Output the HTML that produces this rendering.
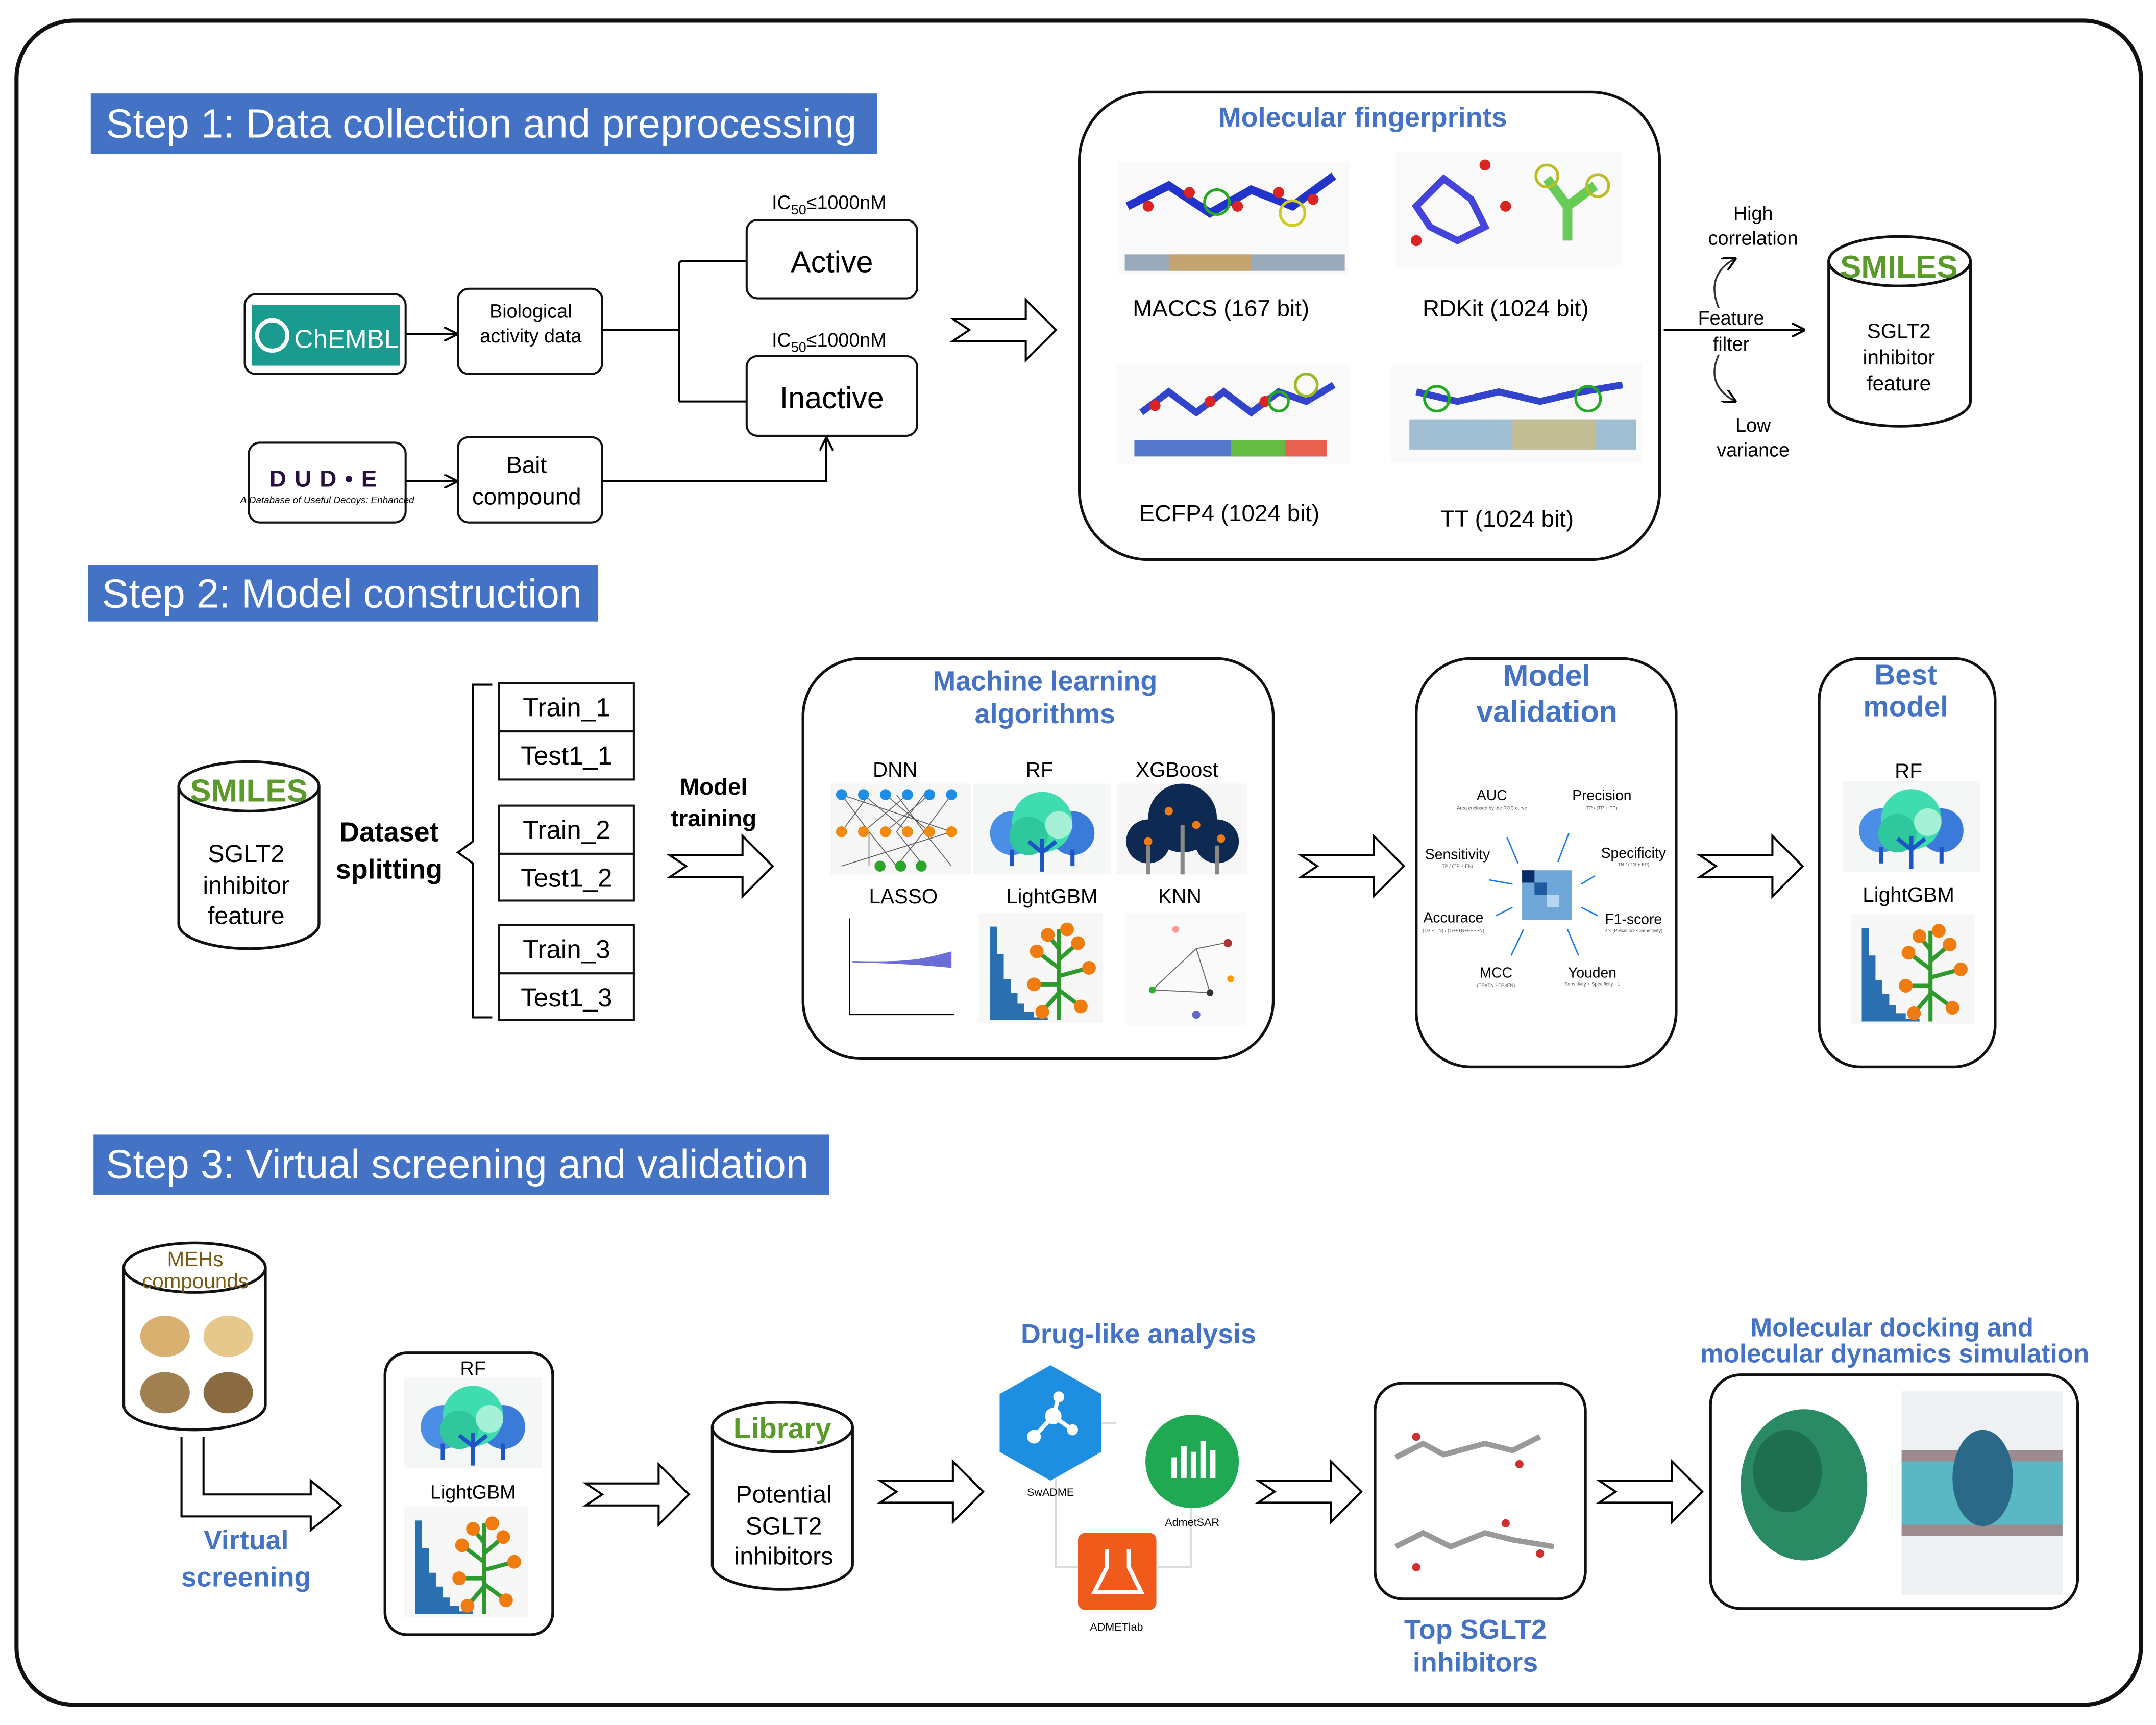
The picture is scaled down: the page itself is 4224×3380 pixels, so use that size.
<!DOCTYPE html>
<html><head><meta charset="utf-8"><style>
html,body{margin:0;padding:0;background:#fff}
svg{display:block}
text{font-family:"Liberation Sans",Arial,sans-serif}
</style></head><body>
<svg width="4224" height="3380" viewBox="0 0 1568 1254.7" xmlns="http://www.w3.org/2000/svg">
<defs>
<marker id="ah" markerWidth="10" markerHeight="10" refX="9" refY="5" orient="auto" markerUnits="userSpaceOnUse"><path d="M0,0 L10,5 L0,10" fill="none" stroke="#000" stroke-width="1.5"/></marker>
<g id="tree">
<rect x="0" y="0" width="100" height="66" fill="#f4f7f5"/>
<circle cx="28" cy="36" r="16" fill="#4a8ee6"/><circle cx="72" cy="36" r="16" fill="#3a7ad8"/>
<circle cx="50" cy="28" r="22" fill="#3fdcb0"/><circle cx="40" cy="38" r="14" fill="#2fc79c"/><circle cx="62" cy="30" r="10" fill="#a6f0d8"/>
<path d="M50 40 V64 M50 50 L40 42 M50 50 L60 42 M28 48 V60 M72 48 V60" stroke="#1d55c4" stroke-width="3" fill="none"/>
</g>
<g id="lgbm">
<rect x="0" y="0" width="90" height="80" fill="#f7f7f7"/>
<path d="M8 78 V10 H13 V30 H18 V48 H23 V58 H28 V66 H33 V72 H40 V76 H50 V78Z" fill="#2a6fb0"/>
<path d="M58 78 V12 M58 40 L42 28 M58 52 L40 52 M58 58 L46 72 M58 34 L72 22 M58 46 L80 40 M58 56 L74 68 M58 26 L50 16" stroke="#2e9a2e" stroke-width="3" fill="none"/>
<g fill="#f07c0f"><circle cx="42" cy="28" r="5"/><circle cx="40" cy="52" r="5"/><circle cx="46" cy="72" r="5"/><circle cx="72" cy="22" r="5"/><circle cx="80" cy="40" r="5"/><circle cx="74" cy="68" r="5"/><circle cx="50" cy="16" r="5"/><circle cx="64" cy="12" r="5"/></g>
</g>
</defs>
<rect x="0" y="0" width="1568" height="1255" fill="#fff"/>
<rect x="12" y="15" width="1545" height="1225" rx="42" fill="none" stroke="#111" stroke-width="3"/>

<!-- STEP 1 -->
<rect x="66" y="68" width="572" height="44" fill="#4472c4"/>
<text x="77" y="100" font-size="29.5" fill="#fff">Step 1: Data collection and preprocessing</text>

<rect x="178" y="214" width="117" height="58" rx="8" fill="#fff" stroke="#111" stroke-width="1.5"/>
<rect x="183" y="222" width="108" height="44" fill="#1a9b8f"/>
<circle cx="198" cy="244" r="11" fill="none" stroke="#fff" stroke-width="3"/>
<text x="214" y="253" font-size="19" fill="#fff">ChEMBL</text>
<line x1="295" y1="243" x2="332" y2="243" stroke="#000" stroke-width="1.5" marker-end="url(#ah)"/>
<rect x="333" y="210" width="105" height="62" rx="8" fill="#fff" stroke="#111" stroke-width="1.5"/>
<text x="386" y="231" font-size="14" text-anchor="middle">Biological</text>
<text x="386" y="249" font-size="14" text-anchor="middle">activity data</text>
<path d="M438 240 H494 M494 192 V292 M494 192 Q494 190 496 190 H543 M494 292 H543" stroke="#000" stroke-width="1.5" fill="none"/>
<text x="603" y="152" font-size="14" text-anchor="middle">IC<tspan font-size="10" dy="4">50</tspan><tspan dy="-4">≤1000nM</tspan></text>
<rect x="543" y="160" width="124" height="57" rx="8" fill="#fff" stroke="#111" stroke-width="1.5"/>
<text x="605" y="198" font-size="22" text-anchor="middle">Active</text>
<text x="603" y="252" font-size="14" text-anchor="middle">IC<tspan font-size="10" dy="4">50</tspan><tspan dy="-4">≤1000nM</tspan></text>
<rect x="543" y="259" width="124" height="58" rx="8" fill="#fff" stroke="#111" stroke-width="1.5"/>
<text x="605" y="297" font-size="22" text-anchor="middle">Inactive</text>

<rect x="181" y="322" width="114" height="58" rx="8" fill="#fff" stroke="#111" stroke-width="1.5"/>
<text x="238" y="354" font-size="17" font-weight="bold" text-anchor="middle" fill="#2a1040" letter-spacing="6">DUD•E</text>
<text x="238" y="366" font-size="7" font-style="italic" text-anchor="middle">A Database of Useful Decoys: Enhanced</text>
<line x1="295" y1="350" x2="332" y2="350" stroke="#000" stroke-width="1.5" marker-end="url(#ah)"/>
<rect x="333" y="318" width="105" height="62" rx="8" fill="#fff" stroke="#111" stroke-width="1.5"/>
<text x="383" y="344" font-size="17" text-anchor="middle">Bait</text>
<text x="383" y="367" font-size="17" text-anchor="middle">compound</text>
<path d="M438 350 H601 V319" stroke="#000" stroke-width="1.5" fill="none" marker-end="url(#ah)"/>

<polygon points="693,232 746,232 746,218 768,240 746,262 746,248 693,248 705,240" fill="#fff" stroke="#000" stroke-width="1.5"/>

<rect x="785" y="67" width="422" height="340" rx="50" fill="#fff" stroke="#111" stroke-width="2"/>
<text x="991" y="92" font-size="20" font-weight="bold" fill="#4472c4" text-anchor="middle">Molecular fingerprints</text>
<rect x="813" y="118" width="168" height="82" fill="#fafafa"/>
<path d="M820 150 L850 135 L880 155 L910 138 L940 150 L970 128" stroke="#2233cc" stroke-width="6" fill="none"/>
<g fill="#dd2222"><circle cx="835" cy="150" r="4"/><circle cx="865" cy="140" r="4"/><circle cx="900" cy="150" r="4"/><circle cx="930" cy="140" r="4"/><circle cx="955" cy="145" r="4"/></g>
<circle cx="885" cy="147" r="9" fill="none" stroke="#22aa22" stroke-width="2"/><circle cx="940" cy="155" r="9" fill="none" stroke="#cccc22" stroke-width="2"/>
<rect x="818" y="185" width="160" height="12" fill="#9ab"/><rect x="850" y="185" width="60" height="12" fill="#e0a040" opacity="0.6"/>
<text x="888" y="230" font-size="17" text-anchor="middle">MACCS  (167 bit)</text>
<rect x="1015" y="110" width="165" height="85" fill="#fafafa"/>
<path d="M1030 150 L1050 130 L1070 145 L1080 165 L1060 175 L1040 165Z" stroke="#4444dd" stroke-width="5" fill="none"/>
<g fill="#dd2222"><circle cx="1030" cy="175" r="4"/><circle cx="1080" cy="120" r="4"/><circle cx="1095" cy="150" r="4"/></g>
<path d="M1125 130 L1140 150 L1160 135 M1140 150 L1140 175" stroke="#66cc55" stroke-width="7" fill="none"/>
<circle cx="1125" cy="128" r="8" fill="none" stroke="#bbbb22" stroke-width="2"/><circle cx="1162" cy="135" r="8" fill="none" stroke="#bbbb22" stroke-width="2"/>
<text x="1095" y="230" font-size="17" text-anchor="middle">RDKit (1024 bit)</text>
<rect x="812" y="265" width="170" height="73" fill="#fafafa"/>
<path d="M830 300 L850 285 L870 300 L890 285 L910 300 L930 285 L950 292 L970 280" stroke="#3344cc" stroke-width="5" fill="none"/>
<g fill="#dd2222"><circle cx="840" cy="295" r="4"/><circle cx="880" cy="292" r="4"/><circle cx="920" cy="292" r="4"/></g>
<circle cx="950" cy="280" r="8" fill="none" stroke="#99bb22" stroke-width="2"/><circle cx="930" cy="292" r="7" fill="none" stroke="#22aa22" stroke-width="2"/>
<rect x="825" y="320" width="140" height="12" fill="#5577cc"/><rect x="895" y="320" width="40" height="12" fill="#66bb44"/><rect x="935" y="320" width="30" height="12" fill="#e86050"/>
<text x="894" y="379" font-size="17" text-anchor="middle">ECFP4 (1024 bit)</text>
<rect x="1012" y="265" width="182" height="72" fill="#fafafa"/>
<path d="M1030 285 L1060 292 L1090 285 L1120 292 L1150 285 L1180 280" stroke="#3344cc" stroke-width="5" fill="none"/>
<circle cx="1045" cy="290" r="9" fill="none" stroke="#22aa22" stroke-width="2"/><circle cx="1155" cy="290" r="9" fill="none" stroke="#22aa22" stroke-width="2"/>
<rect x="1025" y="305" width="165" height="22" fill="#8ab0c8" opacity="0.8"/><rect x="1100" y="305" width="60" height="22" fill="#d8c070" opacity="0.6"/>
<text x="1096" y="383" font-size="17" text-anchor="middle">TT (1024 bit)</text>

<line x1="1210" y1="240" x2="1312" y2="240" stroke="#000" stroke-width="1.5" marker-end="url(#ah)"/>
<text x="1275" y="160" font-size="14" text-anchor="middle">High</text>
<text x="1275" y="178" font-size="14" text-anchor="middle">correlation</text>
<text x="1259" y="236" font-size="14" text-anchor="middle">Feature</text>
<text x="1259" y="255" font-size="14" text-anchor="middle">filter</text>
<text x="1275" y="314" font-size="14" text-anchor="middle">Low</text>
<text x="1275" y="332" font-size="14" text-anchor="middle">variance</text>
<path d="M1250 224 Q1240 200 1262 188" stroke="#333" stroke-width="1.3" fill="none" marker-end="url(#ah)"/>
<path d="M1250 258 Q1240 280 1262 292" stroke="#333" stroke-width="1.3" fill="none" marker-end="url(#ah)"/>

<g stroke="#111" stroke-width="2" fill="#fff">
<path d="M1330 190 V292 A51.5 18 0 0 0 1433 292 V190"/>
<ellipse cx="1381.5" cy="190" rx="51.5" ry="18"/>
</g>
<text x="1381" y="202" font-size="23" font-weight="bold" fill="#5a9a2a" text-anchor="middle">SMILES</text>
<text x="1381" y="246" font-size="15" text-anchor="middle">SGLT2</text>
<text x="1381" y="265" font-size="15" text-anchor="middle">inhibitor</text>
<text x="1381" y="284" font-size="15" text-anchor="middle">feature</text>

<!-- STEP 2 -->
<rect x="64" y="411" width="371" height="41" fill="#4472c4"/>
<text x="74" y="442" font-size="29.5" fill="#fff">Step 2: Model construction</text>

<g stroke="#111" stroke-width="2" fill="#fff">
<path d="M130 572 V672 A51 18 0 0 0 232 672 V572"/>
<ellipse cx="181" cy="572" rx="51" ry="18"/>
</g>
<text x="181" y="583" font-size="23" font-weight="bold" fill="#5a9a2a" text-anchor="middle">SMILES</text>
<text x="179" y="627" font-size="18" text-anchor="middle">SGLT2</text>
<text x="179" y="650" font-size="18" text-anchor="middle">inhibitor</text>
<text x="179" y="672" font-size="18" text-anchor="middle">feature</text>
<text x="283" y="612" font-size="20" font-weight="bold" text-anchor="middle">Dataset</text>
<text x="283" y="639" font-size="20" font-weight="bold" text-anchor="middle">splitting</text>

<path d="M358 498 H344 V612 L333 620 L344 628 V740 H358" stroke="#000" stroke-width="1.5" fill="none"/>
<g stroke="#111" stroke-width="1.5" fill="#fff">
<rect x="363" y="497" width="98" height="35"/><rect x="363" y="532" width="98" height="35"/>
<rect x="363" y="586" width="98" height="35"/><rect x="363" y="621" width="98" height="34"/>
<rect x="363" y="673" width="98" height="35"/><rect x="363" y="708" width="98" height="34"/>
</g>
<g font-size="19" text-anchor="middle">
<text x="412" y="521">Train_1</text><text x="412" y="556">Test1_1</text>
<text x="412" y="610">Train_2</text><text x="412" y="645">Test1_2</text>
<text x="412" y="697">Train_3</text><text x="412" y="732">Test1_3</text>
</g>
<text x="519" y="578" font-size="17" font-weight="bold" text-anchor="middle">Model</text>
<text x="519" y="601" font-size="17" font-weight="bold" text-anchor="middle">training</text>
<polygon points="487,622 540,622 540,608 562,630 540,652 540,638 487,638 499,630" fill="#fff" stroke="#000" stroke-width="1.5"/>

<rect x="584" y="479" width="342" height="291" rx="42" fill="#fff" stroke="#111" stroke-width="2"/>
<text x="760" y="502" font-size="20" font-weight="bold" fill="#4472c4" text-anchor="middle">Machine learning</text>
<text x="760" y="526" font-size="20" font-weight="bold" fill="#4472c4" text-anchor="middle">algorithms</text>
<g font-size="15" text-anchor="middle">
<text x="651" y="565">DNN</text><text x="756" y="565">RF</text><text x="856" y="565">XGBoost</text>
<text x="657" y="657">LASSO</text><text x="765" y="657">LightGBM</text><text x="858" y="657">KNN</text>
</g>
<rect x="604" y="570" width="102" height="66" fill="#f6f6f6"/>
<g stroke="#555" stroke-width="0.6" fill="none">
<path d="M612 578 L632 605 L652 630 M632 578 L612 605 M632 605 L632 630 M652 578 L672 605 L692 630 M672 578 L652 605 M652 605 L672 630 M692 578 L672 605 M672 605 L652 630 M612 578 L692 605 M692 605 L612 630 M628 578 L660 605 M644 578 L676 605 M660 578 L628 605 M676 578 L644 605"/>
</g>
<g fill="#1c8ee8"><circle cx="612" cy="578" r="4"/><circle cx="628" cy="578" r="4"/><circle cx="644" cy="578" r="4"/><circle cx="660" cy="578" r="4"/><circle cx="676" cy="578" r="4"/><circle cx="692" cy="578" r="4"/></g>
<g fill="#f08a10"><circle cx="612" cy="605" r="4"/><circle cx="628" cy="605" r="4"/><circle cx="644" cy="605" r="4"/><circle cx="660" cy="605" r="4"/><circle cx="676" cy="605" r="4"/><circle cx="692" cy="605" r="4"/></g>
<g fill="#2aa52a"><circle cx="640" cy="630" r="4"/><circle cx="655" cy="630" r="4"/><circle cx="670" cy="630" r="4"/></g>
<use href="#tree" x="708" y="570"/>
<rect x="812" y="570" width="95" height="66" fill="#f6f6f6"/>
<circle cx="860" cy="595" r="25" fill="#0f2a52"/><circle cx="835" cy="612" r="16" fill="#0f2a52"/><circle cx="885" cy="612" r="16" fill="#0f2a52"/>
<path d="M860 600 V636 M835 615 V636 M885 615 V636" stroke="#888" stroke-width="3"/>
<g fill="#f07c0f"><circle cx="850" cy="590" r="3"/><circle cx="870" cy="600" r="3"/><circle cx="835" cy="612" r="3"/><circle cx="888" cy="610" r="3"/></g>
<rect x="606" y="664" width="92" height="80" fill="#fff"/>
<path d="M618 668 V738 H694" stroke="#000" stroke-width="0.8" fill="none"/>
<path d="M620 699 C660 700 670 698 692 692 L692 704 C670 702 660 701 620 700Z" fill="#6c6cd8"/>
<use href="#lgbm" x="712" y="664"/>
<rect x="818" y="664" width="88" height="82" fill="#fafafa"/>
<path d="M838 720 L870 690 L880 722 Z M870 690 L890 686" stroke="#666" stroke-width="0.7" fill="none"/>
<g><circle cx="838" cy="720" r="2.5" fill="#3a3"/><circle cx="893" cy="686" r="3" fill="#a33"/><circle cx="870" cy="738" r="3" fill="#66c"/><circle cx="855" cy="676" r="2.5" fill="#f99"/><circle cx="895" cy="712" r="2.5" fill="#f90"/><circle cx="880" cy="722" r="2.5" fill="#333"/></g>

<polygon points="946,622 999,622 999,608 1021,630 999,652 999,638 946,638 958,630" fill="#fff" stroke="#000" stroke-width="1.5"/>

<rect x="1030" y="479" width="189" height="297" rx="40" fill="#fff" stroke="#111" stroke-width="2"/>
<text x="1125" y="499" font-size="22" font-weight="bold" fill="#4472c4" text-anchor="middle">Model</text>
<text x="1125" y="525" font-size="22" font-weight="bold" fill="#4472c4" text-anchor="middle">validation</text>
<g font-size="10.5" text-anchor="middle">
<text x="1085" y="582">AUC</text><text x="1165" y="582">Precision</text>
<text x="1060" y="625">Sensitivity</text><text x="1188" y="624">Specificity</text>
<text x="1057" y="671">Accurace</text><text x="1188" y="672">F1-score</text>
<text x="1088" y="711">MCC</text><text x="1158" y="711">Youden</text>
</g>
<g font-size="3.5" fill="#555" text-anchor="middle">
<text x="1085" y="589">Area enclosed by the ROC curve</text><text x="1165" y="589">TP / (TP + FP)</text>
<text x="1060" y="631">TP / (TP + FN)</text><text x="1188" y="630">TN / (TN + FP)</text>
<text x="1057" y="678">(TP + TN) / (TP+TN+FP+FN)</text><text x="1188" y="678">2 × (Precision × Sensitivity)</text>
<text x="1088" y="718">(TP×TN - FP×FN)</text><text x="1158" y="717">Sensitivity + Specificity - 1</text>
</g>
<rect x="1107" y="633" width="36" height="36" fill="#6fa8d8"/>
<rect x="1107" y="633" width="9" height="9" fill="#0a2a6a"/><rect x="1116" y="642" width="9" height="9" fill="#1f5aa0"/><rect x="1125" y="651" width="9" height="9" fill="#b7d5ee"/>
<g stroke="#1a7be8" stroke-width="1" fill="none">
<path d="M1096 609 L1104 628 M1133 627 L1141 606 M1083 640 L1100 643 M1150 643 L1160 637 M1100 660 L1088 666 M1150 660 L1162 666 M1108 676 L1099 695 M1140 676 L1148 695"/>
</g>

<polygon points="1236,622 1289,622 1289,608 1311,630 1289,652 1289,638 1236,638 1248,630" fill="#fff" stroke="#000" stroke-width="1.5"/>

<rect x="1323" y="479" width="128" height="297" rx="30" fill="#fff" stroke="#111" stroke-width="2"/>
<text x="1386" y="498" font-size="21" font-weight="bold" fill="#4472c4" text-anchor="middle">Best</text>
<text x="1386" y="521" font-size="21" font-weight="bold" fill="#4472c4" text-anchor="middle">model</text>
<text x="1388" y="566" font-size="15" text-anchor="middle">RF</text>
<use href="#tree" x="1340" y="568"/>
<text x="1388" y="656" font-size="15" text-anchor="middle">LightGBM</text>
<use href="#lgbm" x="1346" y="665"/>

<!-- STEP 3 -->
<rect x="68" y="825" width="535" height="44" fill="#4472c4"/>
<text x="77" y="857" font-size="29.5" fill="#fff">Step 3: Virtual screening and validation</text>

<g stroke="#111" stroke-width="2" fill="#fff">
<path d="M90 922 V1022 A51.5 18 0 0 0 193 1022 V922"/>
<ellipse cx="141.5" cy="922" rx="51.5" ry="18"/>
</g>
<text x="142" y="921" font-size="15" fill="#7a5a10" text-anchor="middle">MEHs</text>
<text x="142" y="937" font-size="15" fill="#7a5a10" text-anchor="middle">compounds</text>
<g><ellipse cx="120" cy="972" rx="18" ry="15" fill="#d8b070"/><ellipse cx="166" cy="972" rx="18" ry="15" fill="#e6c88c"/><ellipse cx="120" cy="1013" rx="18" ry="15" fill="#a08050"/><ellipse cx="166" cy="1013" rx="18" ry="15" fill="#8a6a40"/></g>
<path d="M132 1045 V1103 H226 V1113 L248 1095 L226 1077 V1087 H148 V1045" fill="#fff" stroke="#000" stroke-width="1.5"/>
<text x="179" y="1127" font-size="20" font-weight="bold" fill="#4472c4" text-anchor="middle">Virtual</text>
<text x="179" y="1154" font-size="20" font-weight="bold" fill="#4472c4" text-anchor="middle">screening</text>

<rect x="280" y="984" width="122" height="205" rx="16" fill="#fff" stroke="#111" stroke-width="2"/>
<text x="344" y="1000" font-size="14" text-anchor="middle">RF</text>
<use href="#tree" x="294" y="1002"/>
<text x="344" y="1090" font-size="14" text-anchor="middle">LightGBM</text>
<use href="#lgbm" x="294" y="1096"/>

<polygon points="426,1079 479,1079 479,1065 501,1087 479,1109 479,1095 426,1095 438,1087" fill="#fff" stroke="#000" stroke-width="1.5"/>

<g stroke="#111" stroke-width="2" fill="#fff">
<path d="M518 1038 V1138 A51 18 0 0 0 620 1138 V1038"/>
<ellipse cx="569" cy="1038" rx="51" ry="18"/>
</g>
<text x="569" y="1046" font-size="21" font-weight="bold" fill="#5a9a2a" text-anchor="middle">Library</text>
<text x="570" y="1093" font-size="18" text-anchor="middle">Potential</text>
<text x="570" y="1116" font-size="18" text-anchor="middle">SGLT2</text>
<text x="570" y="1138" font-size="18" text-anchor="middle">inhibitors</text>

<polygon points="640,1077 693,1077 693,1063 715,1085 693,1107 693,1093 640,1093 652,1085" fill="#fff" stroke="#000" stroke-width="1.5"/>

<text x="828" y="977" font-size="20" font-weight="bold" fill="#4472c4" text-anchor="middle">Drug-like analysis</text>
<path d="M790 1035 H812 M866 1063 V1140 H842 M768 1065 V1140 H784" stroke="#ddd" stroke-width="1.5" fill="none"/>
<polygon points="764,993 801,1014 801,1056 764,1077 727,1056 727,1014" fill="#1e8fe0"/>
<g stroke="#fff" stroke-width="3"><line x1="752" y1="1045" x2="766" y2="1030"/><line x1="766" y1="1030" x2="780" y2="1040"/><line x1="766" y1="1030" x2="770" y2="1016"/></g>
<g fill="#fff"><circle cx="752" cy="1045" r="5"/><circle cx="766" cy="1030" r="6"/><circle cx="780" cy="1040" r="4"/><circle cx="770" cy="1016" r="4"/></g>
<text x="764" y="1088" font-size="8" text-anchor="middle">SwADME</text>
<circle cx="867" cy="1063" r="34" fill="#21a852"/>
<g fill="#fff"><rect x="852" y="1060" width="4" height="15"/><rect x="859" y="1052" width="4" height="23"/><rect x="866" y="1056" width="4" height="19"/><rect x="873" y="1048" width="4" height="27"/><rect x="880" y="1055" width="4" height="20"/></g>
<text x="867" y="1110" font-size="8" text-anchor="middle">AdmetSAR</text>
<rect x="784" y="1115" width="57" height="56" rx="5" fill="#f05a1a"/>
<path d="M805 1127 V1140 L796 1158 H830 L821 1140 V1127" stroke="#fff" stroke-width="3" fill="none"/>
<text x="812" y="1186" font-size="8" text-anchor="middle">ADMETlab</text>

<polygon points="915,1077 968,1077 968,1063 990,1085 968,1107 968,1093 915,1093 927,1085" fill="#fff" stroke="#000" stroke-width="1.5"/>

<rect x="1000" y="1006" width="153" height="157" rx="20" fill="#fff" stroke="#111" stroke-width="2"/>
<path d="M1015 1060 L1035 1050 L1050 1058 L1080 1050 L1100 1055 L1120 1045 M1015 1125 L1035 1115 L1055 1125 L1080 1115 L1100 1120 L1130 1125" stroke="#999" stroke-width="4" fill="none"/>
<g fill="#d03030"><circle cx="1030" cy="1045" r="3"/><circle cx="1105" cy="1065" r="3"/><circle cx="1030" cy="1140" r="3"/><circle cx="1095" cy="1108" r="3"/><circle cx="1120" cy="1130" r="3"/></g>
<text x="1073" y="1192" font-size="20" font-weight="bold" fill="#4472c4" text-anchor="middle">Top SGLT2</text>
<text x="1073" y="1216" font-size="20" font-weight="bold" fill="#4472c4" text-anchor="middle">inhibitors</text>

<polygon points="1163,1077 1216,1077 1216,1063 1238,1085 1216,1107 1216,1093 1163,1093 1175,1085" fill="#fff" stroke="#000" stroke-width="1.5"/>

<text x="1376" y="972" font-size="19" font-weight="bold" fill="#4472c4" text-anchor="middle">Molecular docking and</text>
<text x="1378" y="991" font-size="19" font-weight="bold" fill="#4472c4" text-anchor="middle">molecular dynamics simulation</text>
<rect x="1244" y="1000" width="267" height="170" rx="22" fill="#fff" stroke="#111" stroke-width="2"/>
<ellipse cx="1312" cy="1080" rx="46" ry="55" fill="#2a8a64"/>
<ellipse cx="1300" cy="1070" rx="25" ry="30" fill="#1e6e50"/>
<rect x="1383" y="1012" width="117" height="148" fill="#eef0f4"/>
<rect x="1383" y="1055" width="117" height="62" fill="#5ab8c4"/>
<rect x="1383" y="1055" width="117" height="8" fill="#c86a6a" opacity="0.6"/>
<rect x="1383" y="1109" width="117" height="8" fill="#c86a6a" opacity="0.6"/>
<ellipse cx="1442" cy="1075" rx="22" ry="35" fill="#2a6a88"/>
</svg>
</body></html>
